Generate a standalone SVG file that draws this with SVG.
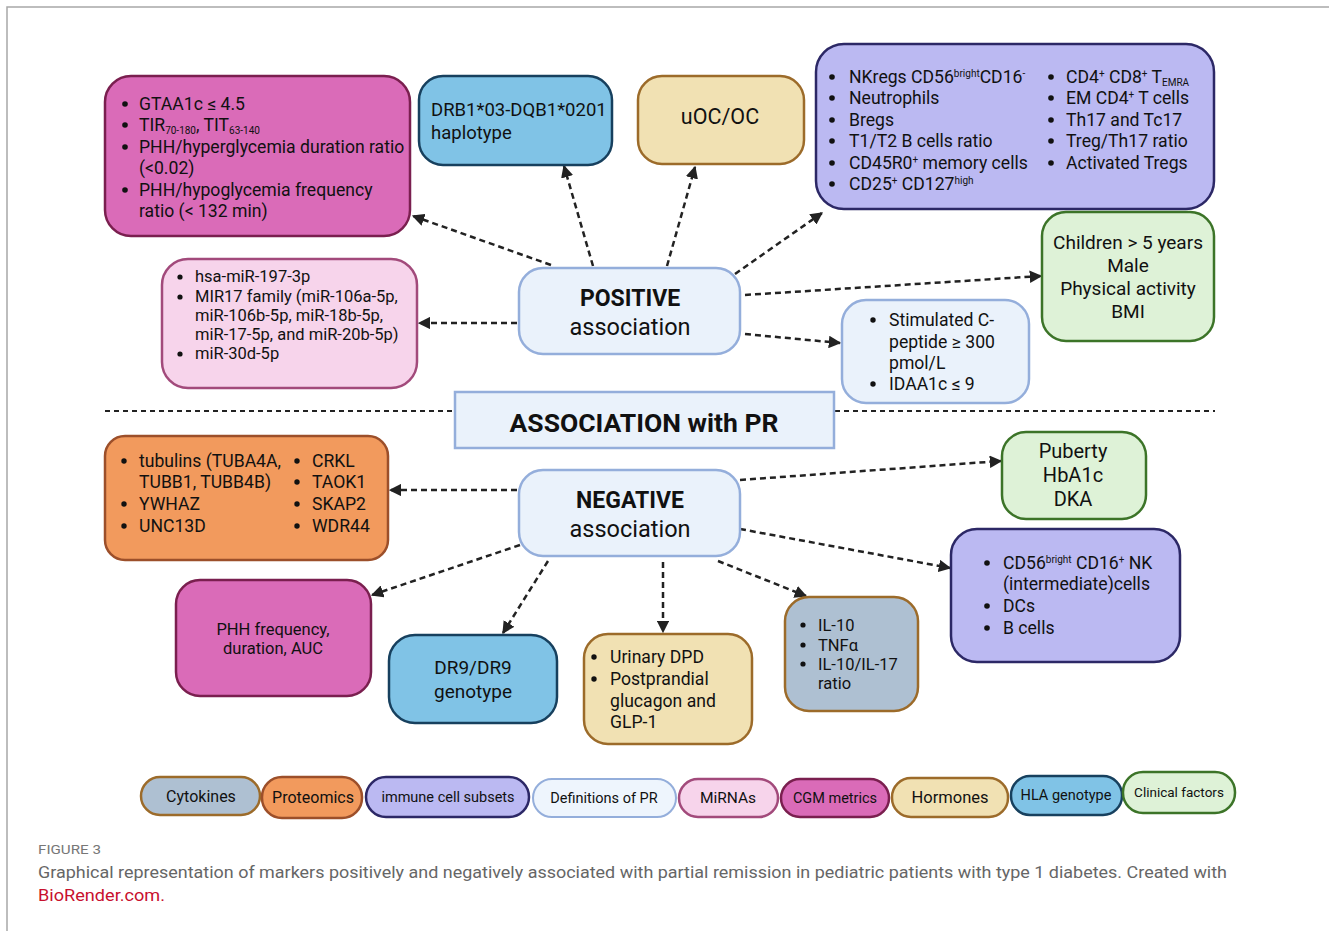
<svg xmlns="http://www.w3.org/2000/svg" width="1329" height="931" viewBox="0 0 1329 931">
<style>
text{font-family:Roboto,"Liberation Sans",sans-serif;fill:#111}
.b{stroke-width:2.5}
.cgm{fill:#da6bb8;stroke:#7a1f4f}
.hla{fill:#80c3e6;stroke:#17405e}
.hor{fill:#f1e1b3;stroke:#9c6b2a}
.imm{fill:#bbb9f2;stroke:#2c2866}
.cli{fill:#def2d7;stroke:#3c7428}
.mir{fill:#f7d4eb;stroke:#a24a7b}
.def{fill:#eaf2fb;stroke:#94aedb}
.pro{fill:#f29a5d;stroke:#9c4f2a}
.cyt{fill:#aec0d2;stroke:#9c6b2a}
.c{stroke:#222;stroke-width:2.5;stroke-dasharray:6 4;fill:none;marker-end:url(#ah)}
.t17{font-size:17.6px}
.t16{font-size:16.5px}
.sup{font-size:10px}
</style>
<defs>
<marker id="ah" viewBox="0 0 10 10" refX="9" refY="5" markerWidth="5" markerHeight="5" orient="auto" markerUnits="strokeWidth">
<path d="M0,0 L10,5 L0,10 z" fill="#222"/>
</marker>
</defs>
<rect width="1329" height="931" fill="#fff"/>
<path d="M7,931 V7 H1329" fill="none" stroke="#a8a8a8" stroke-width="1.5"/>

<g id="connectors">
<line class="c" x1="551" y1="265" x2="413" y2="216"/>
<line class="c" x1="593" y1="266" x2="564" y2="166"/>
<line class="c" x1="667" y1="266" x2="695" y2="167"/>
<line class="c" x1="735" y1="274" x2="822" y2="213"/>
<line class="c" x1="745" y1="295" x2="1041" y2="276"/>
<line class="c" x1="745" y1="334" x2="840" y2="343"/>
<line class="c" x1="517" y1="323" x2="419" y2="323"/>
<line class="c" x1="517" y1="490" x2="390" y2="490"/>
<line class="c" x1="740" y1="480" x2="1001" y2="461"/>
<line class="c" x1="740" y1="529" x2="950" y2="568"/>
<line class="c" x1="520" y1="545" x2="372" y2="595"/>
<line class="c" x1="548" y1="561" x2="503" y2="633"/>
<line class="c" x1="663" y1="562" x2="663" y2="632"/>
<line class="c" x1="718" y1="561" x2="806" y2="596"/>
<line x1="105" y1="411" x2="455" y2="411" stroke="#222" stroke-width="2" stroke-dasharray="5 4"/>
<line x1="835" y1="411" x2="1215" y2="411" stroke="#222" stroke-width="2" stroke-dasharray="5 4"/>
</g>

<g id="cgm-positive">
<rect class="b cgm" x="105" y="76" width="305" height="160" rx="26"/>
<g fill="#111"><circle cx="125" cy="104" r="2.8"/><circle cx="125" cy="125" r="2.8"/><circle cx="125" cy="147" r="2.8"/><circle cx="125" cy="190" r="2.8"/></g>
<text class="t17" x="139" y="110">GTAA1c ≤ 4.5</text>
<text class="t17" x="139" y="131">TIR<tspan class="sup" dy="3">70-180</tspan><tspan dy="-3">, TIT</tspan><tspan class="sup" dy="3">63-140</tspan></text>
<text class="t17" x="139" y="153">PHH/hyperglycemia duration ratio</text>
<text class="t17" x="139" y="174">(&lt;0.02)</text>
<text class="t17" x="139" y="196">PHH/hypoglycemia frequency</text>
<text class="t17" x="139" y="217">ratio (&lt; 132 min)</text>
</g>

<g id="hla-positive">
<rect class="b hla" x="419" y="76" width="193" height="89" rx="24"/>
<text x="431" y="116" font-size="18.5">DRB1*03-DQB1*0201</text>
<text x="431" y="139" font-size="18.5">haplotype</text>
</g>

<g id="uoc">
<rect class="b hor" x="638" y="76" width="166" height="88" rx="24"/>
<text x="720" y="124" font-size="21.5" text-anchor="middle">uOC/OC</text>
</g>

<g id="immune-positive">
<rect class="b imm" x="816" y="44" width="398" height="165" rx="28"/>
<g fill="#111">
<circle cx="832" cy="77" r="2.8"/><circle cx="832" cy="98" r="2.8"/><circle cx="832" cy="120" r="2.8"/><circle cx="832" cy="141" r="2.8"/><circle cx="832" cy="163" r="2.8"/><circle cx="832" cy="184" r="2.8"/>
<circle cx="1051" cy="77" r="2.8"/><circle cx="1051" cy="98" r="2.8"/><circle cx="1051" cy="120" r="2.8"/><circle cx="1051" cy="141" r="2.8"/><circle cx="1051" cy="163" r="2.8"/>
</g>
<text class="t17" x="849" y="83">NKregs CD56<tspan class="sup" dy="-6">bright</tspan><tspan dy="6">CD16</tspan><tspan class="sup" dy="-6">-</tspan></text>
<text class="t17" x="849" y="104">Neutrophils</text>
<text class="t17" x="849" y="126">Bregs</text>
<text class="t17" x="849" y="147">T1/T2 B cells ratio</text>
<text class="t17" x="849" y="169">CD45R0<tspan class="sup" dy="-6">+</tspan><tspan dy="6"> memory cells</tspan></text>
<text class="t17" x="849" y="190">CD25<tspan class="sup" dy="-6">+</tspan><tspan dy="6"> CD127</tspan><tspan class="sup" dy="-6">high</tspan></text>
<text class="t17" x="1066" y="83">CD4<tspan class="sup" dy="-6">+</tspan><tspan dy="6"> CD8</tspan><tspan class="sup" dy="-6">+</tspan><tspan dy="6"> T</tspan><tspan class="sup" dy="3">EMRA</tspan></text>
<text class="t17" x="1066" y="104">EM CD4<tspan class="sup" dy="-6">+</tspan><tspan dy="6"> T cells</tspan></text>
<text class="t17" x="1066" y="126">Th17 and Tc17</text>
<text class="t17" x="1066" y="147">Treg/Th17 ratio</text>
<text class="t17" x="1066" y="169">Activated Tregs</text>
</g>

<g id="clinical-positive">
<rect class="b cli" x="1042" y="212" width="172" height="129" rx="24"/>
<g font-size="19" text-anchor="middle">
<text x="1128" y="249">Children &gt; 5 years</text>
<text x="1128" y="272">Male</text>
<text x="1128" y="295">Physical activity</text>
<text x="1128" y="318">BMI</text>
</g>
</g>

<g id="mirna">
<rect class="b mir" x="162" y="259" width="255" height="129" rx="26"/>
<g fill="#111"><circle cx="180" cy="277" r="2.6"/><circle cx="180" cy="297" r="2.6"/><circle cx="180" cy="354" r="2.6"/></g>
<text class="t16" x="195" y="282">hsa-miR-197-3p</text>
<text class="t16" x="195" y="302">MIR17 family (miR-106a-5p,</text>
<text class="t16" x="195" y="321">miR-106b-5p, miR-18b-5p,</text>
<text class="t16" x="195" y="340">miR-17-5p, and miR-20b-5p)</text>
<text class="t16" x="195" y="359">miR-30d-5p</text>
</g>

<g id="positive">
<rect class="b def" x="519" y="268" width="221" height="86" rx="24"/>
<text x="630" y="306" font-size="23" font-weight="bold" text-anchor="middle">POSITIVE</text>
<text x="630" y="335" font-size="23.5" text-anchor="middle">association</text>
</g>

<g id="definitions-positive">
<rect class="b def" x="842" y="300" width="187" height="103" rx="24"/>
<g fill="#111"><circle cx="873" cy="320" r="2.7"/><circle cx="873" cy="384" r="2.7"/></g>
<text class="t17" x="889" y="326">Stimulated C-</text>
<text class="t17" x="889" y="348">peptide ≥ 300</text>
<text class="t17" x="889" y="369">pmol/L</text>
<text class="t17" x="889" y="390">IDAA1c ≤ 9</text>
</g>

<g id="association-pr">
<rect x="455" y="392" width="379" height="56" fill="#eaf2fb" stroke="#94aedb" stroke-width="2.5"/>
<text x="644" y="432" font-size="26.5" font-weight="bold" text-anchor="middle">ASSOCIATION with PR</text>
</g>

<g id="proteomics">
<rect class="b pro" x="105" y="436" width="283" height="124" rx="20"/>
<g fill="#111">
<circle cx="124" cy="461" r="2.7"/><circle cx="124" cy="504" r="2.7"/><circle cx="124" cy="526" r="2.7"/>
<circle cx="297" cy="461" r="2.7"/><circle cx="297" cy="482" r="2.7"/><circle cx="297" cy="504" r="2.7"/><circle cx="297" cy="526" r="2.7"/>
</g>
<text class="t17" x="139" y="467">tubulins (TUBA4A,</text>
<text class="t17" x="139" y="488">TUBB1, TUBB4B)</text>
<text class="t17" x="139" y="510">YWHAZ</text>
<text class="t17" x="139" y="532">UNC13D</text>
<text class="t17" x="312" y="467">CRKL</text>
<text class="t17" x="312" y="488">TAOK1</text>
<text class="t17" x="312" y="510">SKAP2</text>
<text class="t17" x="312" y="532">WDR44</text>
</g>

<g id="negative">
<rect class="b def" x="519" y="470" width="221" height="86" rx="24"/>
<text x="630" y="508" font-size="23" font-weight="bold" text-anchor="middle">NEGATIVE</text>
<text x="630" y="537" font-size="23.5" text-anchor="middle">association</text>
</g>

<g id="clinical-negative">
<rect class="b cli" x="1002" y="432" width="144" height="87" rx="24"/>
<g font-size="20" text-anchor="middle">
<text x="1073" y="458">Puberty</text>
<text x="1073" y="482">HbA1c</text>
<text x="1073" y="506">DKA</text>
</g>
</g>

<g id="immune-negative">
<rect class="b imm" x="951" y="529" width="229" height="133" rx="26"/>
<g fill="#111"><circle cx="987" cy="563" r="2.8"/><circle cx="987" cy="606" r="2.8"/><circle cx="987" cy="628" r="2.8"/></g>
<text class="t17" x="1003" y="569">CD56<tspan class="sup" dy="-6">bright</tspan><tspan dy="6"> CD16</tspan><tspan class="sup" dy="-6">+</tspan><tspan dy="6"> NK</tspan></text>
<text class="t17" x="1003" y="590">(intermediate)cells</text>
<text class="t17" x="1003" y="612">DCs</text>
<text class="t17" x="1003" y="634">B cells</text>
</g>

<g id="cgm-negative">
<rect class="b cgm" x="176" y="580" width="195" height="116" rx="24"/>
<text x="273" y="635" font-size="16.5" text-anchor="middle">PHH frequency,</text>
<text x="273" y="654" font-size="16.5" text-anchor="middle">duration, AUC</text>
</g>

<g id="hla-negative">
<rect class="b hla" x="389" y="635" width="168" height="88" rx="26"/>
<text x="473" y="674" font-size="19" text-anchor="middle">DR9/DR9</text>
<text x="473" y="698" font-size="19" text-anchor="middle">genotype</text>
</g>

<g id="hormones-negative">
<rect class="b hor" x="584" y="634" width="168" height="110" rx="24"/>
<g fill="#111"><circle cx="594" cy="657" r="2.7"/><circle cx="594" cy="679" r="2.7"/></g>
<text class="t17" x="610" y="663">Urinary DPD</text>
<text class="t17" x="610" y="685">Postprandial</text>
<text class="t17" x="610" y="707">glucagon and</text>
<text class="t17" x="610" y="728">GLP-1</text>
</g>

<g id="cytokines-negative">
<rect class="b cyt" x="785" y="597" width="133" height="114" rx="24"/>
<g fill="#111"><circle cx="803" cy="625" r="2.6"/><circle cx="803" cy="645" r="2.6"/><circle cx="803" cy="664" r="2.6"/></g>
<text class="t16" x="818" y="631">IL-10</text>
<text class="t16" x="818" y="651">TNFα</text>
<text class="t16" x="818" y="670">IL-10/IL-17</text>
<text class="t16" x="818" y="689">ratio</text>
</g>

<g id="legend">
<rect class="b cyt" x="141" y="777" width="119" height="38" rx="19"/>
<text x="201" y="802" font-size="16" text-anchor="middle">Cytokines</text>
<rect class="b pro" x="262" y="777" width="100" height="41" rx="20"/>
<text x="313" y="803" font-size="16" text-anchor="middle">Proteomics</text>
<rect class="b imm" x="366" y="777" width="163" height="40" rx="20"/>
<text x="448" y="802" font-size="14.5" text-anchor="middle">immune cell subsets</text>
<rect x="533" y="779" width="143" height="38" rx="19" fill="#eef5fd" stroke="#94aedb" stroke-width="2"/>
<text x="604" y="803" font-size="14.5" text-anchor="middle">Definitions of PR</text>
<rect class="b mir" x="679" y="779" width="99" height="38" rx="19"/>
<text x="728" y="803" font-size="15.5" text-anchor="middle">MiRNAs</text>
<rect class="b cgm" x="781" y="779" width="108" height="38" rx="19"/>
<text x="835" y="803" font-size="14.5" text-anchor="middle">CGM metrics</text>
<rect class="b hor" x="892" y="778" width="116" height="39" rx="19"/>
<text x="950" y="803" font-size="16.5" text-anchor="middle">Hormones</text>
<rect class="b hla" x="1011" y="776" width="111" height="39" rx="19"/>
<text x="1066" y="800" font-size="14.5" text-anchor="middle">HLA genotype</text>
<rect class="b cli" x="1123" y="772" width="112" height="41" rx="20"/>
<text x="1179" y="797" font-size="13.5" text-anchor="middle">Clinical factors</text>
</g>

<g id="caption">
<text x="38" y="854" font-size="13" style="fill:#777" font-family="'Open Sans',sans-serif" textLength="63" lengthAdjust="spacingAndGlyphs">FIGURE 3</text>
<text x="38" y="878" font-size="17" style="fill:#666" font-family="'Open Sans',sans-serif" textLength="1189" lengthAdjust="spacingAndGlyphs">Graphical representation of markers positively and negatively associated with partial remission in pediatric patients with type 1 diabetes. Created with</text>
<text x="38" y="901" font-size="17" style="fill:#c8102e" font-family="'Open Sans',sans-serif" textLength="127" lengthAdjust="spacingAndGlyphs">BioRender.com.</text>
</g>
</svg>
